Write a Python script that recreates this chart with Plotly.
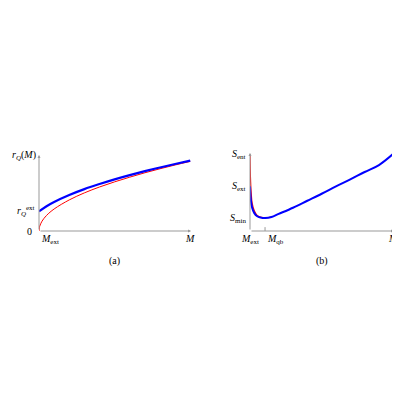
import plotly.graph_objects as go

# Panel (a)
a_x = [0, 0.5, 1, 2, 3, 4, 5, 6, 7, 8, 9, 10]
a_blue = [2.6, 3.28, 3.84, 4.76, 5.54, 6.21, 6.83, 7.39, 7.91, 8.40, 8.86, 9.30]
a_rx = [0, 0.02, 0.05, 0.2, 0.5, 1, 2, 3, 4, 5, 6, 7, 8, 9, 10]
a_red = [0, 0.42, 0.65, 1.3, 2.06, 2.91, 4.11, 5.04, 5.82, 6.50, 7.12, 7.70, 8.23, 8.73, 9.20]
# Panel (b)
b_x = [0, 0.05, 0.15, 0.3, 0.5, 0.8, 1.05, 1.5, 2, 3, 4, 5, 6, 7, 8, 9, 10]
b_blue = [5.77, 4.2, 3.0, 2.3, 1.9, 1.7, 1.67, 1.8, 2.2, 3.0, 3.9, 4.8, 5.75, 6.65, 7.6, 8.5, 9.95]
b_rx = [0, 0.03, 0.08, 0.15, 0.3, 0.5, 0.8, 1.1, 1.5]
b_red = [9.87, 7.0, 5.0, 3.6, 2.6, 2.0, 1.75, 1.7, 1.8]

FONT = "Liberation Serif"
R = 10.05
DOM = {"x": [0.0775, 0.4575], "y": [0.4425, 0.6325], "x2": [0.605, 0.965], "y2": [0.4425, 0.6375]}

fig = go.Figure()
fig.add_trace(go.Scatter(x=a_rx, y=a_red, mode="lines", line=dict(color="red", width=1, shape="spline"), xaxis="x", yaxis="y"))
fig.add_trace(go.Scatter(x=a_x, y=a_blue, mode="lines", line=dict(color="blue", width=2.2, shape="spline"), xaxis="x", yaxis="y"))
fig.add_trace(go.Scatter(x=b_rx, y=b_red, mode="lines", line=dict(color="red", width=1.2, shape="spline"), xaxis="x2", yaxis="y2"))
fig.add_trace(go.Scatter(x=b_x, y=b_blue, mode="lines", line=dict(color="blue", width=2, shape="spline"), xaxis="x2", yaxis="y2"))

ax = dict(showgrid=False, zeroline=False, showticklabels=False, showline=False, range=[0, R])
fig.update_layout(
    width=400, height=400, margin=dict(l=0, r=0, t=0, b=0),
    plot_bgcolor="white", paper_bgcolor="white", showlegend=False,
    xaxis=dict(ax, domain=DOM["x"]), yaxis=dict(ax, domain=DOM["y"]),
    xaxis2=dict(ax, domain=DOM["x2"]), yaxis2=dict(ax, domain=DOM["y2"]),
    font=dict(family=FONT, size=10, color="black"),
)
anns = []
for xr, yr in [("x", "y"), ("x2", "y2")]:
    anns.append(dict(x=R, y=0, ax=0, ay=0, xref=xr, yref=yr, axref=xr, ayref=yr, showarrow=True, arrowhead=2, arrowsize=0.6, arrowwidth=1, arrowcolor="#999", text=""))
    anns.append(dict(x=0, y=R, ax=0, ay=0, xref=xr, yref=yr, axref=xr, ayref=yr, showarrow=True, arrowhead=2, arrowsize=0.6, arrowwidth=1, arrowcolor="#999", text=""))
def lab(x, y, t, xr, yr, xa="center", ya="middle", dx=0, dy=0):
    px = DOM[xr][0] + x / R * (DOM[xr][1] - DOM[xr][0])
    py = DOM[yr][0] + y / R * (DOM[yr][1] - DOM[yr][0])
    anns.append(dict(x=px, y=py, xref="paper", yref="paper", text=t, showarrow=False, xanchor=xa, yanchor=ya,
                     xshift=dx, yshift=dy, font=dict(family=FONT, size=10)))
lab(0, 0, "<i>M</i><sub>ext</sub>", "x", "y", "left", "top")
lab(10, 0, "<i>M</i>", "x", "y", "center", "top")
lab(0, 0, "0", "x", "y", "right", dx=-5)
lab(0, 2.6, "<i>r</i><sub><i>Q</i></sub><sup>ext</sup>", "x", "y", "right", dx=-2)
lab(0, R, "<i>r</i><sub><i>Q</i></sub>(<i>M</i>)", "x", "y", "right", dx=-1)
lab(5, 0, "(a)", "x", "y", "center", "top", dy=-22)
lab(0, 0, "<i>M</i><sub>ext</sub>", "x2", "y2", "center", "top")
lab(1.05, 0, "<i>M</i><sub>qb</sub>", "x2", "y2", "left", "top")
lab(10, 0, "<i>M</i>", "x2", "y2", "center", "top")
lab(0, 1.67, "<i>S</i><sub>min</sub>", "x2", "y2", "right", dx=-2)
lab(0, 5.77, "<i>S</i><sub>ext</sub>", "x2", "y2", "right", dx=-2)
lab(0, 9.87, "<i>S</i><sub>ent</sub>", "x2", "y2", "right", dx=-2)
lab(5, 0, "(b)", "x2", "y2", "center", "top", dy=-22)
fig.update_layout(annotations=anns)
fig.add_shape(type="line", x0=1.05, x1=1.05, y0=0, y1=0.5, xref="x2", yref="y2", line=dict(color="#999", width=1))
fig.write_html("out.html")
